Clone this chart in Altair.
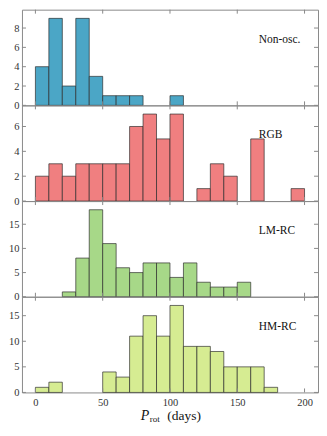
import altair as alt
import pandas as pd

bin_starts = list(range(0, 200, 10))
non_osc = [4, 9, 2, 9, 3, 1, 1, 1, 0, 0, 1, 0, 0, 0, 0, 0, 0, 0, 0, 0]
rgb = [2, 3, 2, 3, 3, 3, 3, 6, 7, 5, 7, 0, 1, 3, 2, 0, 5, 0, 0, 1]
lm_rc = [0, 0, 1, 8, 18, 11, 6, 5, 7, 7, 4, 7, 3, 2, 2, 3, 0, 0, 0, 0]
hm_rc = [1, 2, 0, 0, 0, 4, 3, 11, 15, 11, 17, 9, 9, 8, 5, 5, 5, 1, 0, 0]

names = ["Non-osc.", "RGB", "LM-RC", "HM-RC"]
colors = ["#4ba6c6", "#f07f80", "#a7d888", "#d6ec92"]
yticks = [[0, 2, 4, 6, 8], [0, 2, 4, 6], [0, 5, 10, 15], [0, 5, 10, 15]]
xticks = [0, 50, 100, 150, 200]

W = 297
H = 96
FONT = "Liberation Serif"
FRAME = "#8a8a8a"
TL = 4


def panel(name, counts, color, yt, bottom=False):
    df = pd.DataFrame({"start": bin_starts,
                       "end": [b + 10 for b in bin_starts],
                       "count": counts,
                       "base": [0] * len(bin_starts)})
    df = df[df["count"] > 0]
    ymax = max(counts) * 1.1
    xs = alt.Scale(domain=[-10, 210], nice=False, zero=False)
    ys = alt.Scale(domain=[0, ymax], nice=False, zero=False)
    if bottom:
        xaxis = alt.Axis(values=xticks, ticks=False, domain=False, grid=False,
                         labelPadding=5, title=None)
    else:
        xaxis = None
    yaxis = alt.Axis(values=yt, ticks=False, domain=False, grid=False,
                     labelPadding=3, labelOverlap=False, title=None)
    bars = alt.Chart(df).mark_rect(fill=color, stroke="#2b2b2b",
                                   strokeWidth=0.8, strokeOpacity=0.85).encode(
        x=alt.X("start:Q", scale=xs, axis=xaxis),
        x2="end:Q",
        y=alt.Y("count:Q", scale=ys, axis=yaxis),
        y2="base:Q",
    )
    xt = pd.DataFrame({"t": xticks})
    yv = pd.DataFrame({"v": yt})
    xb = alt.Chart(xt).mark_rule(color=FRAME, strokeWidth=1).encode(
        x=alt.X("t:Q", scale=xs, axis=xaxis), y=alt.value(H), y2=alt.value(H - TL))
    xtp = alt.Chart(xt).mark_rule(color=FRAME, strokeWidth=1).encode(
        x=alt.X("t:Q", scale=xs, axis=xaxis), y=alt.value(0), y2=alt.value(TL))
    yl = alt.Chart(yv).mark_rule(color=FRAME, strokeWidth=1).encode(
        y=alt.Y("v:Q", scale=ys, axis=yaxis), x=alt.value(0), x2=alt.value(TL))
    yr = alt.Chart(yv).mark_rule(color=FRAME, strokeWidth=1).encode(
        y=alt.Y("v:Q", scale=ys, axis=yaxis), x=alt.value(W - TL), x2=alt.value(W))
    lab = alt.Chart(pd.DataFrame({"x": [166], "label": [name]})).mark_text(
        align="left", baseline="middle", font=FONT, fontSize=11.5, color="#111"
    ).encode(x=alt.X("x:Q", scale=xs, axis=xaxis), y=alt.value(30), text="label:N")
    layers = [bars, xb, xtp, yl, yr, lab]
    if bottom:
        tdf = pd.DataFrame({"x": [78.3], "s": ["P"]})
        p = alt.Chart(tdf).mark_text(align="left", baseline="alphabetic",
                                     font=FONT, fontSize=14, fontStyle="italic",
                                     color="#111").encode(
            x=alt.X("x:Q", scale=xs, axis=xaxis), y=alt.value(H + 28), text="s:N")
        rdf = pd.DataFrame({"x": [85.0], "s": ["rot"]})
        r = alt.Chart(rdf).mark_text(align="left", baseline="alphabetic",
                                     font=FONT, fontSize=9, color="#111").encode(
            x=alt.X("x:Q", scale=xs, axis=xaxis), y=alt.value(H + 30), text="s:N")
        ddf = pd.DataFrame({"x": [98.0], "s": ["(days)"]})
        d = alt.Chart(ddf).mark_text(align="left", baseline="alphabetic",
                                     font=FONT, fontSize=13.5, color="#111").encode(
            x=alt.X("x:Q", scale=xs, axis=xaxis), y=alt.value(H + 28), text="s:N")
        layers += [p, r, d]
    return alt.layer(*layers).properties(width=W, height=H)


series = [non_osc, rgb, lm_rc, hm_rc]
panels = [panel(names[i], series[i], colors[i], yticks[i], bottom=(i == 3))
          for i in range(4)]

chart = alt.vconcat(*panels, spacing=0, bounds="flush",
                    padding={"left": 0, "top": 0, "right": 0, "bottom": 0}
).configure_view(
    stroke=FRAME, strokeWidth=1
).configure_axis(
    labelFont=FONT, labelFontSize=10.5, labelColor="#333", labelOverlap=False
)

chart.save("out.html", embed_options={"renderer": "svg", "actions": False})
